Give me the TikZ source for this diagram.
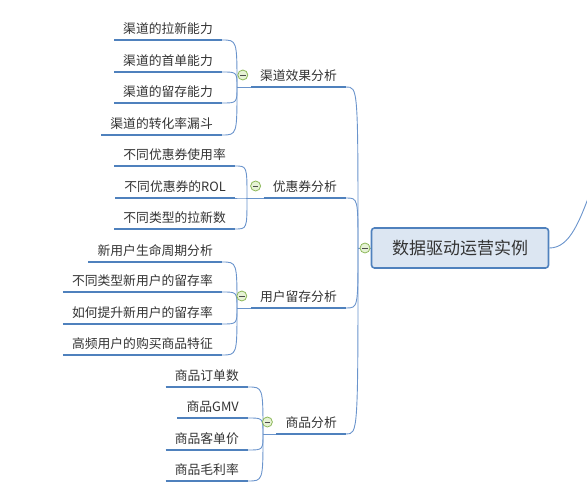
\documentclass[tikz,border=0pt]{standalone}
\usepackage{fontspec}
\setmainfont{Noto Sans CJK SC}
\usetikzlibrary{calc}
\definecolor{lineblue}{HTML}{4F81BD}
\definecolor{thinblue}{HTML}{6A94CC}
\definecolor{boxfill}{HTML}{DCE6F2}
\definecolor{foldgreen}{HTML}{8DB85A}
\definecolor{foldfill}{HTML}{E6F2D5}
\definecolor{txt}{HTML}{333333}
\tikzset{
	leaf/.style={anchor=south east,inner xsep=9pt,inner ysep=5pt,text=txt,font=\fontsize{12.8}{15}\selectfont},
	root/.style={draw=lineblue,fill=boxfill,rounded corners=3pt,line width=1.6pt,minimum width=177pt,minimum height=40pt,text=txt,font=\fontsize{17}{20}\selectfont},
	uline/.style={lineblue,line width=2.4pt},
	conn/.style={thinblue,line width=0.9pt},
	fold/.style={circle,draw=foldgreen,fill=foldfill,line width=0.8pt,minimum size=10pt,inner sep=0pt,
		path picture={\draw[black!70,line width=0.8pt] ([xshift=-2.8pt]path picture bounding box.center) -- ([xshift=2.8pt]path picture bounding box.center);}}
}
\begin{document}
\begin{tikzpicture}[x=1pt,y=-1pt]
	\clip (0,0) rectangle (587,502);
	\useasboundingbox (0,0) rectangle (587,502);
	
	\node[root] (root) at (460,248) {数据驱动运营实例};
	\coordinate (hub) at (358,248);
	
	% branches
	\node[leaf] (b1) at (346,87) {渠道效果分析};
	\node[leaf] (b2) at (346,198) {优惠券分析};
	\node[leaf] (b3) at (346,308) {用户留存分析};
	\node[leaf] (b4) at (346,434) {商品分析};
	
	\coordinate (j1) at (237,87);
	\coordinate (j2) at (247,198);
	\coordinate (j3) at (237,308);
	\coordinate (j4) at (263,434);
	
	% leaves
	\node[leaf] (l11) at (222,40) {渠道的拉新能力};
	\node[leaf] (l12) at (222,72) {渠道的首单能力};
	\node[leaf] (l13) at (222,103) {渠道的留存能力};
	\node[leaf] (l14) at (222,135) {渠道的转化率漏斗};
	
	\node[leaf] (l21) at (235,166) {不同优惠券使用率};
	\node[leaf] (l22) at (235,198) {不同优惠券的ROL};
	\node[leaf] (l23) at (235,229) {不同类型的拉新数};
	
	\node[leaf] (l31) at (222,262) {新用户生命周期分析};
	\node[leaf] (l32) at (222,292) {不同类型新用户的留存率};
	\node[leaf] (l33) at (222,324) {如何提升新用户的留存率};
	\node[leaf] (l34) at (222,355) {高频用户的购买商品特征};
	
	\node[leaf] (l41) at (248,387) {商品订单数};
	\node[leaf] (l42) at (248,418) {商品GMV};
	\node[leaf] (l43) at (248,450) {商品客单价};
	\node[leaf] (l44) at (248,481) {商品毛利率};
	
	% connectors
	\foreach \b in {b1,b2,b3,b4}
		\draw[conn] (\b.south east) .. controls (hub |- \b.south east) .. (hub);
	\draw[conn] (hub) -- (root.west);
	\draw[conn] (root.east) .. controls (570,248) and (580,222) .. (596,176);
	
	\foreach \n in {l11,l12,l13,l14}
		\draw[conn] (j1) .. controls (j1 |- \n.south east) .. (\n.south east);
	\foreach \n in {l21,l22,l23}
		\draw[conn] (j2) .. controls (j2 |- \n.south east) .. (\n.south east);
	\foreach \n in {l31,l32,l33,l34}
		\draw[conn] (j3) .. controls (j3 |- \n.south east) .. (\n.south east);
	\foreach \n in {l41,l42,l43,l44}
		\draw[conn] (j4) .. controls (j4 |- \n.south east) .. (\n.south east);
	\foreach \j/\b in {j1/b1,j2/b2,j3/b3,j4/b4}
		\draw[conn] (\j) -- (\b.south west);
	
	\foreach \n in {b1,b2,b3,b4,l11,l12,l13,l14,l21,l22,l23,l31,l32,l33,l34,l41,l42,l43,l44}
		\draw[uline] (\n.south west) -- (\n.south east);
	
	% fold markers
	\node[fold] (f0) at (365,248) {};
	\node[fold] (f1) at ([xshift=-8pt,yshift=12pt]b1.south west) {};
	\node[fold] (f2) at ([xshift=-8pt,yshift=12pt]b2.south west) {};
	\node[fold] (f3) at ([xshift=-9pt,yshift=12pt]b3.south west) {};
	\node[fold] (f4) at ([xshift=-9pt,yshift=12pt]b4.south west) {};
\end{tikzpicture}
\end{document}
